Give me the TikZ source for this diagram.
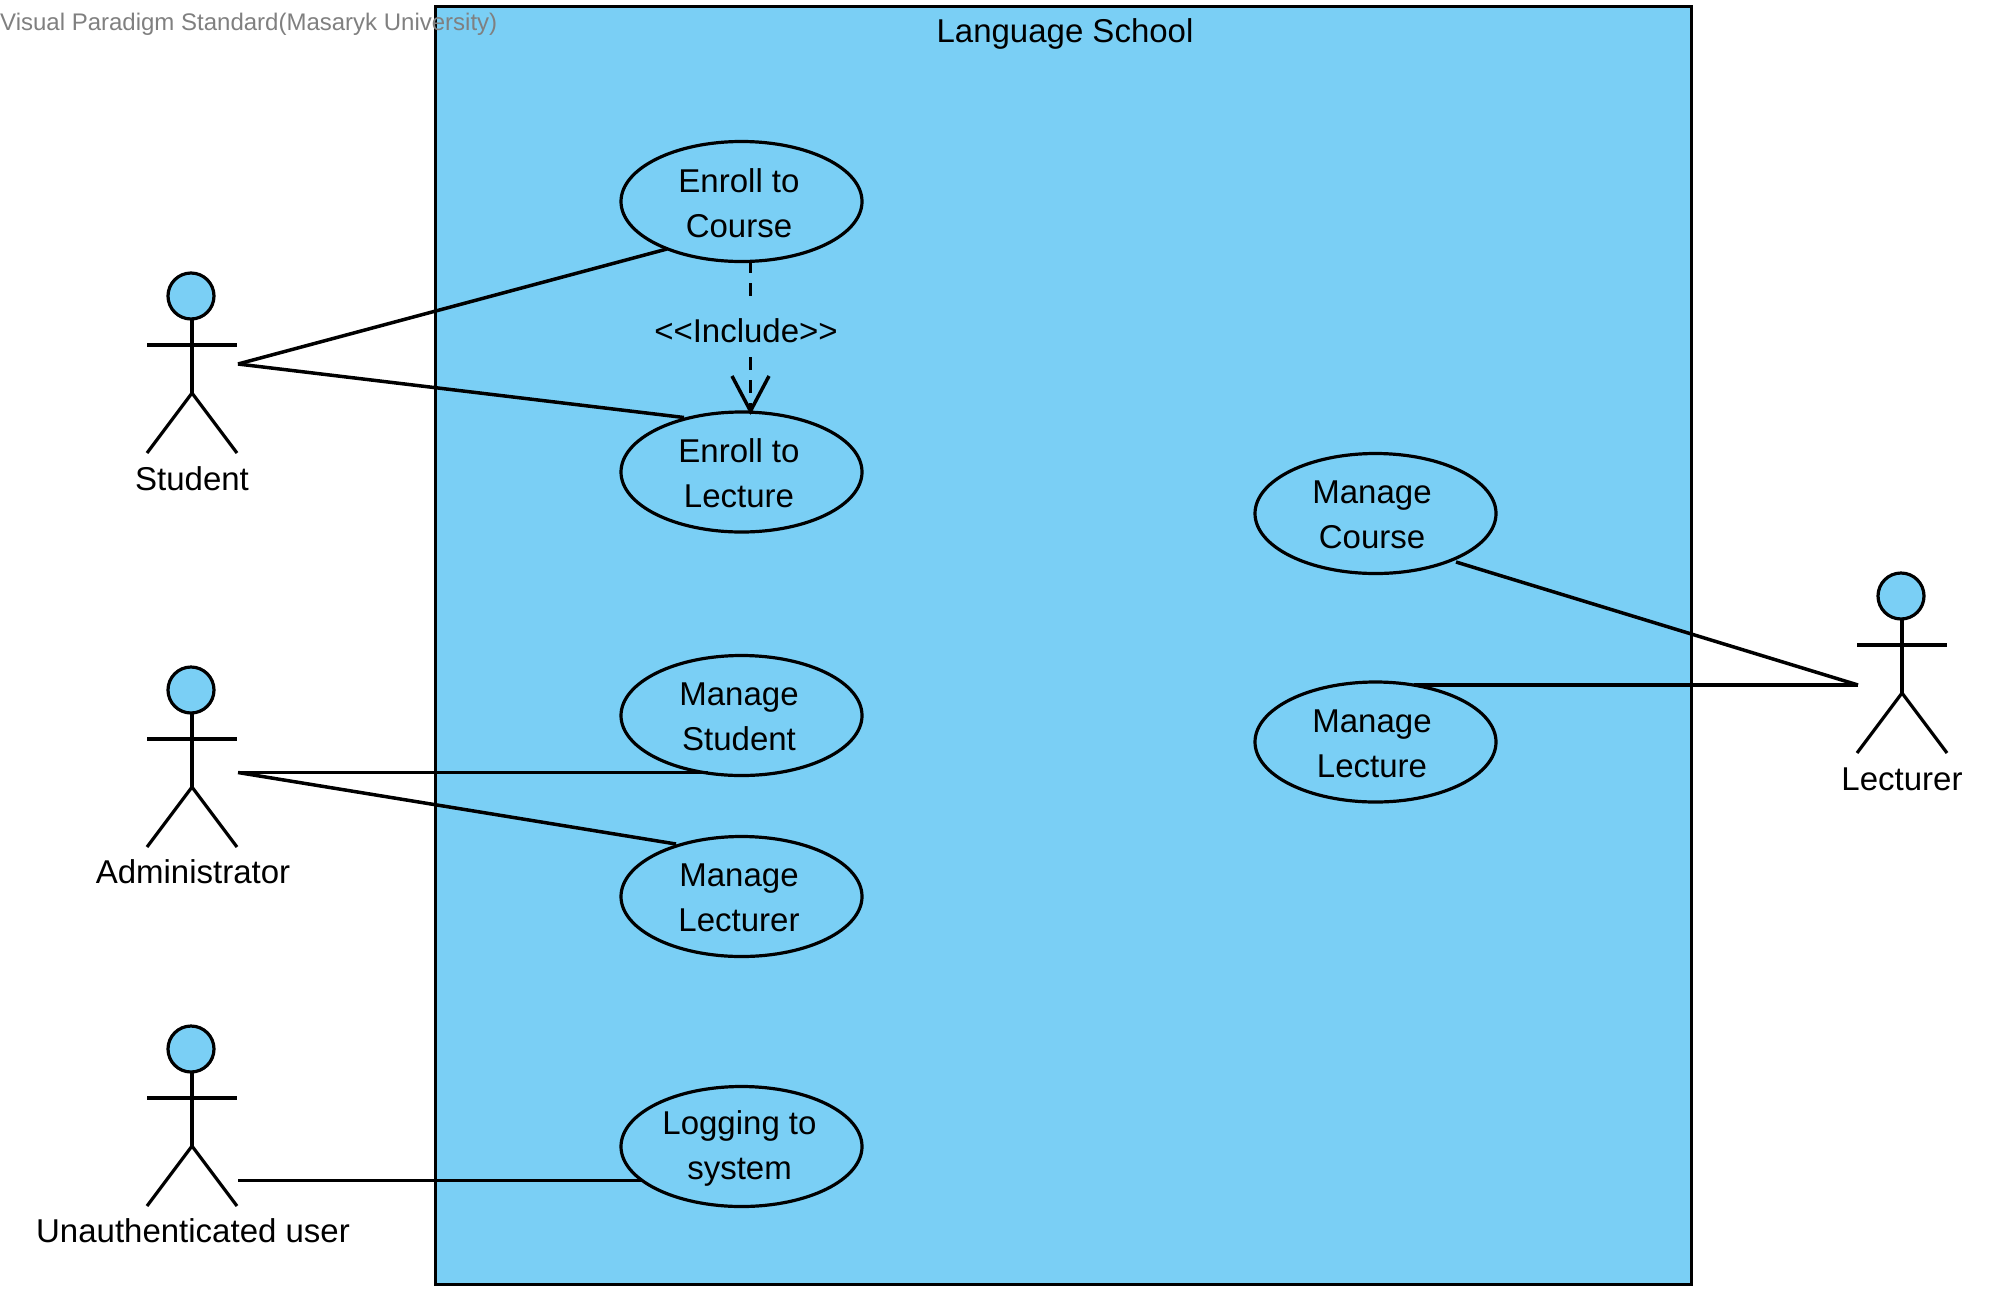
\documentclass[tikz,border=0pt]{standalone}
\usepackage{fontspec}
\setmainfont{Liberation Sans}
\usetikzlibrary{shapes.geometric,arrows.meta}
\definecolor{vpblue}{RGB}{122,207,245}
\tikzset{
  x=1pt,y=-1pt,
  usecase/.style={ellipse,draw=black,fill=vpblue,line width=3.2pt,minimum width=241pt,minimum height=120pt,inner sep=0pt},
  usecase text/.style={align=center,inner sep=0pt,font=\fontsize{33}{45}\selectfont},
  label text/.style={font=\fontsize{33}{40}\selectfont,inner sep=0pt},
  head/.style={circle,draw=black,fill=vpblue,line width=3.2pt,minimum size=46pt,inner sep=0pt},
  limb/.style={line width=3.2pt,line cap=butt},
  assoc/.style={line width=3.5pt,line cap=butt},
}
\newcommand{\ucase}[5]{% name, x, y, text offset x, text
  \node[usecase] (#1) at (#2,#3) {};
  \node[usecase text] (#1text) at (#2+#4,#3+1.5) {#5};
}
\newcommand{\stickfigure}[3]{% name, x, headtop
  \node[head] (#1head) at (#2,#3+23) {};
  \coordinate (#1hip) at (#2+1,#3+120);
  \coordinate (#1neck) at (#2+1,#3+46);
  \coordinate (#1la) at (#2-44,#3+72);
  \coordinate (#1ra) at (#2+46,#3+72);
  \coordinate (#1lf) at (#2-44,#3+180);
  \coordinate (#1rf) at (#2+46,#3+180);
  \draw[limb] (#1neck) -- (#1hip);
  \draw[limb] (#1la) -- (#1ra);
  \draw[limb] (#1lf) -- (#1hip) -- (#1rf);
}
\begin{document}
\begin{tikzpicture}
\useasboundingbox (0,0) rectangle (2007,1299);
\fill[white] (0,0) rectangle (2007,1299);
\node[draw=black,fill=vpblue,line width=3.4pt,minimum width=1256pt,minimum height=1278pt,inner sep=0pt,anchor=north west] (school) at (434,4.5) {};
\node[label text] (title) at (1065,34) {Language School};
\node[font=\fontsize{24}{28}\selectfont,text=black!50,inner sep=0pt,anchor=west] (wm) at (0,24.5) {Visual Paradigm Standard(Masaryk University)};

\ucase{ec}{741.5}{201.5}{-2.5}{Enroll to\\Course}
\ucase{el}{741.5}{472}{-2.5}{Enroll to\\Lecture}
\ucase{ms}{741.5}{715.5}{-2.5}{Manage\\Student}
\ucase{ml}{741.5}{896.5}{-2.5}{Manage\\Lecturer}
\ucase{lg}{741.5}{1146.5}{-2}{Logging to\\system}
\ucase{mc}{1375.5}{513.5}{-3.5}{Manage\\Course}
\ucase{mt}{1375.5}{742}{-3.5}{Manage\\Lecture}

\stickfigure{st}{191}{273}
\node[label text] (stlabel) at (192,478.5) {Student};
\stickfigure{ad}{191}{667}
\node[label text] (adlabel) at (193,872) {Administrator};
\stickfigure{un}{191}{1026}
\node[label text] (unlabel) at (193,1230.5) {Unauthenticated user};
\stickfigure{lr}{1901}{573}
\node[label text] (lrlabel) at (1902,779.5) {Lecturer};

\coordinate (stp) at (238,364);
\coordinate (adp) at (238,772.5);
\coordinate (unp) at (238,1180.5);
\coordinate (lrp) at (1858,685);
\coordinate (ecp) at (667,249);
\coordinate (elp) at (684,417.5);
\coordinate (msp) at (708,772.5);
\coordinate (mlp) at (676,844);
\coordinate (lgp) at (641,1180.5);
\coordinate (mcp) at (1456,562);
\coordinate (mtp) at (1414,685);
\draw[assoc] (stp) -- (ecp);
\draw[assoc] (stp) -- (elp);
\draw[assoc] (adp) -- (msp);
\draw[assoc] (adp) -- (mlp);
\draw[assoc] (unp) -- (lgp);
\draw[assoc] (lrp) -- (mcp);
\draw[assoc] (lrp) -- (mtp);

\node[font=\fontsize{33}{40}\selectfont,inner sep=0pt] (inc) at (746,331) {<{}<Include>{}>};
\coordinate (ia) at (750.5,263);
\coordinate (ib) at (750.5,298);
\coordinate (ic) at (750.5,357);
\coordinate (id) at (750.5,411);
\draw[assoc,dash pattern=on 13pt off 10pt,dash phase=3pt] (ia) -- (ib);
\draw[assoc,dash pattern=on 13pt off 10pt] (ic) -- (id);
\draw[assoc,line join=miter] (732,376) -- (id) -- (769,376);
\end{tikzpicture}
\end{document}
